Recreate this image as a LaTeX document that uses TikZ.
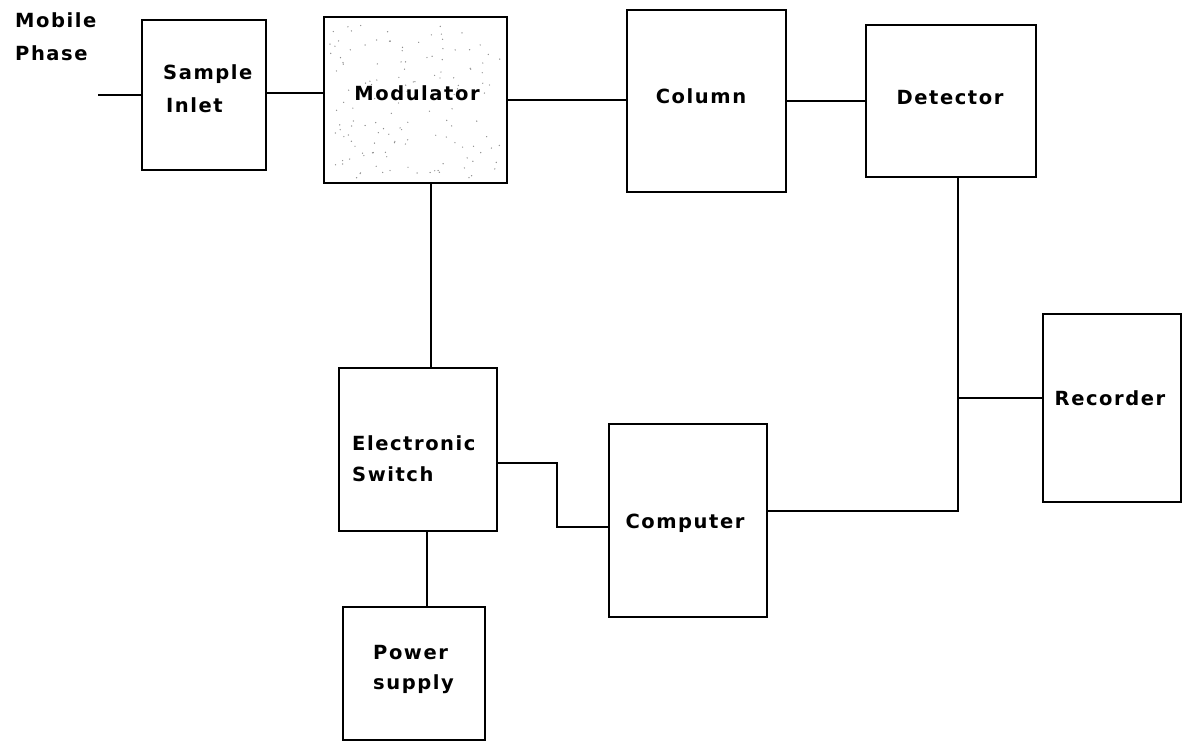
\documentclass[tikz,border=0pt]{standalone}
\usepackage{fontspec}
\newfontfamily\lblfont[LetterSpace=8]{DejaVu Sans}
\usetikzlibrary{calc}
\tikzset{
  box/.style={draw, line width=1.3pt, inner sep=0pt, rectangle},
  lbl/.style={font=\lblfont\bfseries\fontsize{19.5}{22}\selectfont, inner sep=0pt},
  wire/.style={line width=1.2pt},
}
\begin{document}
\begin{tikzpicture}[x=1pt,y=-1pt]
\useasboundingbox (0,0) rectangle (1184,743);
% boxes
\node[box, minimum width=124, minimum height=150] (si)   at (204,95) {};
\node[box, minimum width=183, minimum height=166] (mod)  at (415.5,100) {};
\node[box, minimum width=159, minimum height=182] (col)  at (706.5,101) {};
\node[box, minimum width=170, minimum height=152] (det)  at (951,101) {};
\node[box, minimum width=138, minimum height=188] (rec)  at (1112,408) {};
\node[box, minimum width=158, minimum height=163] (sw)   at (418,449.5) {};
\node[box, minimum width=158, minimum height=193] (comp) at (688,520.5) {};
\node[box, minimum width=142, minimum height=133] (ps)   at (414,673.5) {};
% stipple of modulator
\pgfmathsetseed{7}
\foreach \i in {1,...,140}{
  \pgfmathsetmacro\px{330+rnd*172}
  \pgfmathsetmacro\py{24+rnd*154}
  \fill[black!45] (\px,\py) circle (0.7pt);
}
% labels
\node[lbl, anchor=base west] (mp1) at (15,28) {Mobile};
\node[lbl, anchor=base west] (mp2) at (15,61) {Phase};
\node[lbl, anchor=base west] (si1) at (163,80) {Sample};
\node[lbl, anchor=base west] (si2) at (166,113) {Inlet};
\node[lbl, anchor=base] (modt) at (417,101) {Modulator};
\node[lbl, anchor=base] (colt) at (701,104) {Column};
\node[lbl, anchor=base] (dett) at (950,105) {Detector};
\node[lbl, anchor=base] (rect) at (1110,406) {Recorder};
\node[lbl, anchor=base west] (sw1) at (352,450) {Electronic};
\node[lbl, anchor=base west] (sw2) at (352,481) {Switch};
\node[lbl, anchor=base] (compt) at (685,528) {Computer};
\node[lbl, anchor=base west] (ps1) at (373,659) {Power};
\node[lbl, anchor=base west] (ps2) at (373,689) {supply};
% connectors
\coordinate (mp) at (98,95);
\draw[wire] (mp) -- (si.west);
\draw[wire] ([yshift=2]si.east) -- ([yshift=2]si.east -| mod.west);
\draw[wire] (mod.east) -- (mod.east -| col.west);
\draw[wire] (col.east) -- (col.east -| det.west);
\coordinate (mx) at (431,0);
\draw[wire] (mx |- mod.south) -- (mx |- sw.north);
\coordinate (px) at (427,0);
\draw[wire] (px |- sw.south) -- (px |- ps.north);
\coordinate (bus) at (958,0);
\coordinate (cj) at (767,511);
\draw[wire] (bus |- det.south) -- (bus |- cj) -- (cj -| comp.east);
\fill (cj -| comp.east) circle (1.3pt);
\coordinate (rj) at (1000,398);
\draw[wire] (bus |- rj) -- (rj -| rec.west);
\coordinate (s1) at (557,463);
\coordinate (s2) at (557,527);
\draw[wire] (s1 -| sw.east) -- (s1) -- (s2) -- (s2 -| comp.west);
\end{tikzpicture}
\end{document}
